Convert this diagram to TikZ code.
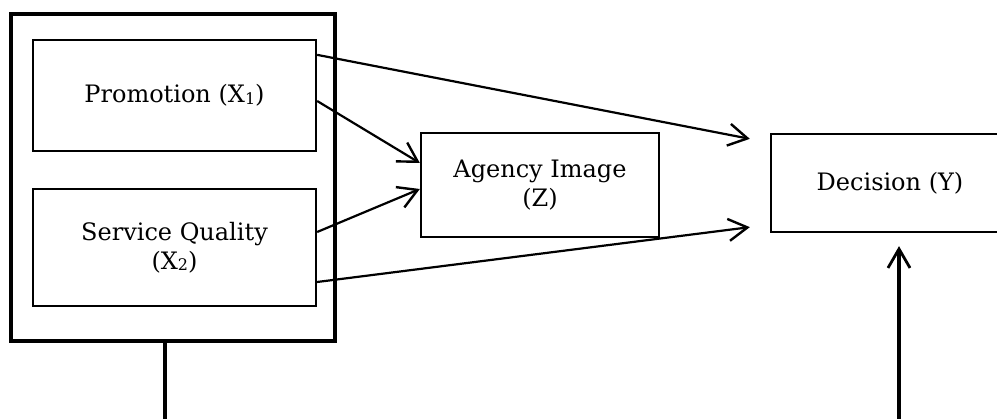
\documentclass[tikz,border=0pt]{standalone}
\usepackage{fontspec}
\setmainfont{DejaVu Serif}
\usetikzlibrary{arrows.meta}

% small lowered index digit, as in X1, X2
\newcommand\idx[1]{\raisebox{-1.5pt}{\fontsize{16}{16}\selectfont #1}}

\tikzset{
  box/.style={draw, line width=2.3pt, inner sep=0pt, align=center,
    font=\fontsize{24}{29}\selectfont},
  frame/.style={draw, line width=3.3pt, inner sep=0pt},
  link/.style={line width=2.2pt, -{Straight Barb[length=19pt,width=22pt,line width=2.4pt]}},
  stem/.style={line width=3.2pt},
}

\begin{document}
\begin{tikzpicture}[x=1pt,y=-1pt]
  \useasboundingbox (0,0) rectangle (997,419);
  \clip (0,0) rectangle (997,419);

  % left group with the two independent variables
  \node[frame, minimum width=324pt, minimum height=327pt] (outer) at (173,177.5) {};
  \node[box, minimum width=283pt, minimum height=111pt] (promo) at (174.5,95.5)
    {Promotion (X\idx{1})};
  \node[box, minimum width=283pt, minimum height=117pt] (serv) at (174.5,247.5)
    {Service Quality\\(X\idx{2})};

  % mediator and dependent variable
  \node[box, minimum width=238pt, minimum height=104pt] (img) at (540,185)
    {Agency Image\\(Z)};
  \node[box, minimum width=238pt, minimum height=98pt] (dec) at (890,183)
    {Decision (Y)};

  % paths between the variables
  \draw[link] ([yshift=-16pt]promo.north east) -- ([xshift=-20pt,yshift=-6pt]dec.north west);
  \draw[link] ([yshift=-5.5pt]promo.east) -- ([yshift=22pt]img.west);
  \draw[link] ([yshift=15.5pt]serv.east) -- ([yshift=-4pt]img.west);
  \draw[link] ([yshift=-34.5pt]serv.east) -- ([xshift=-20pt,yshift=6pt]dec.south west);

  % vertical stems running off the bottom edge
  \coordinate (lowL) at (165,430);
  \coordinate (lowR) at (899,430);
  \draw[stem] ([xshift=-8pt]outer.south) -- (lowL);
  \draw[stem, -{Straight Barb[length=19pt,width=22pt,line width=2.8pt]}]
    (lowR) -- ([xshift=9pt,yshift=-13pt]dec.south);
\end{tikzpicture}
\end{document}
